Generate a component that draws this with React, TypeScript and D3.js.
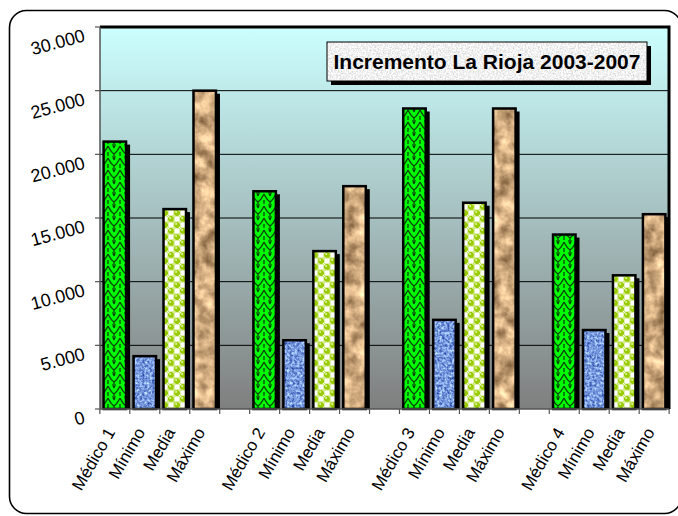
import React, { useRef, useEffect } from "react";
import * as d3 from "d3";

// values
const groupNames = ["Médico 1", "Médico 2", "Médico 3", "Médico 4"];
const statNames = ["Mínimo", "Media", "Máximo"];
const medicoValues = [21000, 17100, 23600, 13700];
const minimoValues = [4150, 5400, 7000, 6200];
const mediaValues = [15700, 12400, 16200, 10500];
const maximoValues = [25000, 17500, 23600, 15300];
const yMax = 30000;
const chartTitle = "Incremento La Rioja 2003-2007";

type Bar = { key: string; label: string; value: number | null; kind: string };

function buildBars(): Bar[] {
  const out: Bar[] = [];
  groupNames.forEach((g, i) => {
    out.push({ key: `${g}`, label: g, value: medicoValues[i], kind: "medico" });
    out.push({ key: `min${i}`, label: statNames[0], value: minimoValues[i], kind: "minimo" });
    out.push({ key: `med${i}`, label: statNames[1], value: mediaValues[i], kind: "media" });
    out.push({ key: `max${i}`, label: statNames[2], value: maximoValues[i], kind: "maximo" });
    if (i < groupNames.length - 1) out.push({ key: `gap${i}`, label: "", value: null, kind: "gap" });
  });
  return out;
}

function IncrementoChart() {
  const ref = useRef<SVGSVGElement | null>(null);

  useEffect(() => {
    const svg = d3.select(ref.current);
    svg.selectAll("*").remove();

    const plot = { left: 100, top: 27, right: 669, bottom: 409 };
    const bars = buildBars();

    const x = d3
      .scaleBand<string>()
      .domain(bars.map((d) => d.key))
      .range([plot.left, plot.right])
      .paddingInner(0.25)
      .paddingOuter(0.12);
    const y = d3.scaleLinear().domain([0, yMax]).range([plot.bottom, plot.top]);

    const locale = d3.formatLocale({ decimal: ",", thousands: ".", grouping: [3], currency: ["", "€"] });
    const fmt = locale.format(",d");

    const defs = svg.append("defs");

    const grad = defs
      .append("linearGradient")
      .attr("id", "bgGrad")
      .attr("x1", 0)
      .attr("y1", 0)
      .attr("x2", 0)
      .attr("y2", 1);
    grad.append("stop").attr("offset", "0%").attr("stop-color", "#ccffff");
    grad.append("stop").attr("offset", "100%").attr("stop-color", "#7f7f7f");

    // green scales pattern
    const pGreen = defs
      .append("pattern")
      .attr("id", "pGreen")
      .attr("patternUnits", "userSpaceOnUse")
      .attr("width", 12)
      .attr("height", 12);
    pGreen.append("rect").attr("width", 12).attr("height", 12).attr("fill", "#00ff00");
    pGreen
      .append("path")
      .attr("d", "M0,2 Q3,8 6,10 Q9,8 12,2 M0,8 L0,12 M12,8 L12,12 M6,4 Q4,0 6,-2 M6,4 Q8,0 6,-2 M6,10 L6,14")
      .attr("fill", "none")
      .attr("stroke", "#0b3d0b")
      .attr("stroke-width", 1.3);

    // media checker pattern with balls
    const pMedia = defs
      .append("pattern")
      .attr("id", "pMedia")
      .attr("patternUnits", "userSpaceOnUse")
      .attr("width", 12)
      .attr("height", 12);
    pMedia.append("rect").attr("width", 12).attr("height", 12).attr("fill", "#ffffff");
    [[3, 3], [9, 9]].forEach(([cx, cy]) => {
      pMedia.append("circle").attr("cx", cx).attr("cy", cy).attr("r", 3.1).attr("fill", "#99cc00");
      pMedia.append("circle").attr("cx", cx - 0.9).attr("cy", cy - 0.9).attr("r", 1).attr("fill", "#e6f5a8");
    });
    [[9, 3], [3, 9]].forEach(([cx, cy]) => {
      pMedia
        .append("rect")
        .attr("x", cx - 3)
        .attr("y", cy - 3)
        .attr("width", 6)
        .attr("height", 6)
        .attr("fill", "none")
        .attr("stroke", "#b5dc3a")
        .attr("stroke-width", 0.8);
    });

    // noise textures
    const mkNoise = (id: string, freq: number, oct: number, matrix: string) => {
      const f = defs
        .append("filter")
        .attr("id", id)
        .attr("x", 0)
        .attr("y", 0)
        .attr("width", 1)
        .attr("height", 1)
        .attr("color-interpolation-filters", "sRGB");
      f.append("feTurbulence")
        .attr("type", "fractalNoise")
        .attr("baseFrequency", freq)
        .attr("numOctaves", oct)
        .attr("seed", 3)
        .attr("result", "n");
      f.append("feColorMatrix").attr("in", "n").attr("type", "matrix").attr("values", matrix).attr("result", "c");
      f.append("feComposite").attr("in", "c").attr("in2", "SourceGraphic").attr("operator", "in");
    };
    mkNoise("fBlue", 0.4, 2, "1.0 0 0 0 -0.03  1.0 0 0 0 0.1  0.7 0 0 0 0.52  0 0 0 0 1");
    mkNoise("fTan", 0.07, 4, "0.9 0 0 0 0.36  0.85 0 0 0 0.24  0.75 0 0 0 0.12  0 0 0 0 1");
    mkNoise("fGray", 0.6, 2, "0.35 0 0 0 0.77  0.35 0 0 0 0.77  0.35 0 0 0 0.77  0 0 0 0 1");

    // outer frame
    svg
      .append("rect")
      .attr("x", 9.5)
      .attr("y", 10.5)
      .attr("width", 672)
      .attr("height", 503)
      .attr("rx", 17)
      .attr("fill", "#ffffff")
      .attr("stroke", "#000")
      .attr("stroke-width", 1.6);

    // plot background
    svg
      .append("rect")
      .attr("x", plot.left)
      .attr("y", plot.top)
      .attr("width", plot.right - plot.left)
      .attr("height", plot.bottom - plot.top)
      .attr("fill", "url(#bgGrad)");

    const ticks = y.ticks(6);

    // gridlines
    svg
      .append("g")
      .selectAll("line")
      .data(ticks.filter((t) => t > 0 && t < yMax))
      .join("line")
      .attr("x1", plot.left)
      .attr("x2", plot.right)
      .attr("y1", (d) => y(d))
      .attr("y2", (d) => y(d))
      .attr("stroke", "#000")
      .attr("stroke-width", 1);

    // plot frame: top and right thick
    svg
      .append("path")
      .attr("d", `M${plot.left},${plot.top} H${plot.right} V${plot.bottom}`)
      .attr("fill", "none")
      .attr("stroke", "#000")
      .attr("stroke-width", 3);

    const fillOf: Record<string, string> = {
      medico: "url(#pGreen)",
      media: "url(#pMedia)",
      minimo: "#7092d8",
      maximo: "#c8a47a",
    };
    const filterOf: Record<string, string | null> = {
      medico: null,
      media: null,
      minimo: "url(#fBlue)",
      maximo: "url(#fTan)",
    };

    const real = bars.filter((b) => b.value !== null);
    const bw = x.bandwidth();

    const gBars = svg.append("g");
    gBars
      .selectAll("rect.shadow")
      .data(real)
      .join("rect")
      .attr("class", "shadow")
      .attr("x", (d) => x(d.key)! + 4)
      .attr("y", (d) => y(d.value!) + 3)
      .attr("width", bw)
      .attr("height", (d) => plot.bottom - y(d.value!) - 3)
      .attr("fill", "#000");
    gBars
      .selectAll("rect.fill")
      .data(real)
      .join("rect")
      .attr("class", "fill")
      .attr("x", (d) => x(d.key)!)
      .attr("y", (d) => y(d.value!))
      .attr("width", bw)
      .attr("height", (d) => plot.bottom - y(d.value!))
      .attr("fill", (d) => fillOf[d.kind])
      .attr("filter", (d) => filterOf[d.kind]);
    gBars
      .selectAll("rect.outline")
      .data(real)
      .join("rect")
      .attr("class", "outline")
      .attr("x", (d) => x(d.key)!)
      .attr("y", (d) => y(d.value!))
      .attr("width", bw)
      .attr("height", (d) => plot.bottom - y(d.value!))
      .attr("fill", "none")
      .attr("stroke", "#000")
      .attr("stroke-width", 2.5);

    // axes
    const axisColor = "#555";
    svg
      .append("line")
      .attr("x1", plot.left)
      .attr("x2", plot.left)
      .attr("y1", plot.top)
      .attr("y2", plot.bottom)
      .attr("stroke", axisColor)
      .attr("stroke-width", 1.5);
    svg
      .append("line")
      .attr("x1", plot.left)
      .attr("x2", plot.right)
      .attr("y1", plot.bottom)
      .attr("y2", plot.bottom)
      .attr("stroke", axisColor)
      .attr("stroke-width", 1.5);

    svg
      .append("g")
      .selectAll("line")
      .data(ticks)
      .join("line")
      .attr("x1", plot.left - 5)
      .attr("x2", plot.left)
      .attr("y1", (d) => y(d))
      .attr("y2", (d) => y(d))
      .attr("stroke", axisColor)
      .attr("stroke-width", 1.2);

    // category boundary ticks
    const step = x.step();
    const edge0 = x(bars[0].key)! - (x.paddingInner() * step) / 2;
    svg
      .append("g")
      .selectAll("line")
      .data(d3.range(bars.length + 1))
      .join("line")
      .attr("x1", (i) => edge0 + i * step)
      .attr("x2", (i) => edge0 + i * step)
      .attr("y1", plot.bottom)
      .attr("y2", plot.bottom + 5)
      .attr("stroke", axisColor)
      .attr("stroke-width", 1.2);

    const font = "'Liberation Sans', Arial, sans-serif";

    svg
      .append("g")
      .selectAll("text")
      .data(ticks)
      .join("text")
      .attr("transform", (d) => `translate(86,${y(d) + 14}) rotate(-15)`)
      .attr("text-anchor", "end")
      .attr("font-family", font)
      .attr("font-size", 18)
      .attr("fill", "#000")
      .text((d) => fmt(d));

    svg
      .append("g")
      .selectAll("text")
      .data(bars.filter((b) => b.label !== ""))
      .join("text")
      .attr("transform", (d) => `translate(${x(d.key)! + bw / 2 + 1},${plot.bottom + 23}) rotate(-60)`)
      .attr("text-anchor", "end")
      .attr("font-family", font)
      .attr("font-size", 17)
      .attr("fill", "#000")
      .text((d) => d.label);

    // title box
    const tb = { x: 327, y: 42, w: 320, h: 39 };
    svg
      .append("rect")
      .attr("x", tb.x + 4)
      .attr("y", tb.y + 4)
      .attr("width", tb.w)
      .attr("height", tb.h)
      .attr("fill", "#000");
    svg
      .append("rect")
      .attr("x", tb.x)
      .attr("y", tb.y)
      .attr("width", tb.w)
      .attr("height", tb.h)
      .attr("fill", "#eeeeee")
      .attr("filter", "url(#fGray)");
    svg
      .append("rect")
      .attr("x", tb.x)
      .attr("y", tb.y)
      .attr("width", tb.w)
      .attr("height", tb.h)
      .attr("fill", "none")
      .attr("stroke", "#000")
      .attr("stroke-width", 1);
    svg
      .append("text")
      .attr("x", tb.x + tb.w / 2)
      .attr("y", tb.y + tb.h / 2 + 7.5)
      .attr("text-anchor", "middle")
      .attr("font-family", font)
      .attr("font-weight", "bold")
      .attr("font-size", 21)
      .attr("fill", "#000")
      .text(chartTitle);
  }, []);

  return (
    <svg
      ref={ref}
      width={678}
      height={516}
      style={{ position: "absolute", left: 0, top: 0, display: "block", background: "#fff" }}
    />
  );
}

export default function App() {
  return <IncrementoChart />;
}
